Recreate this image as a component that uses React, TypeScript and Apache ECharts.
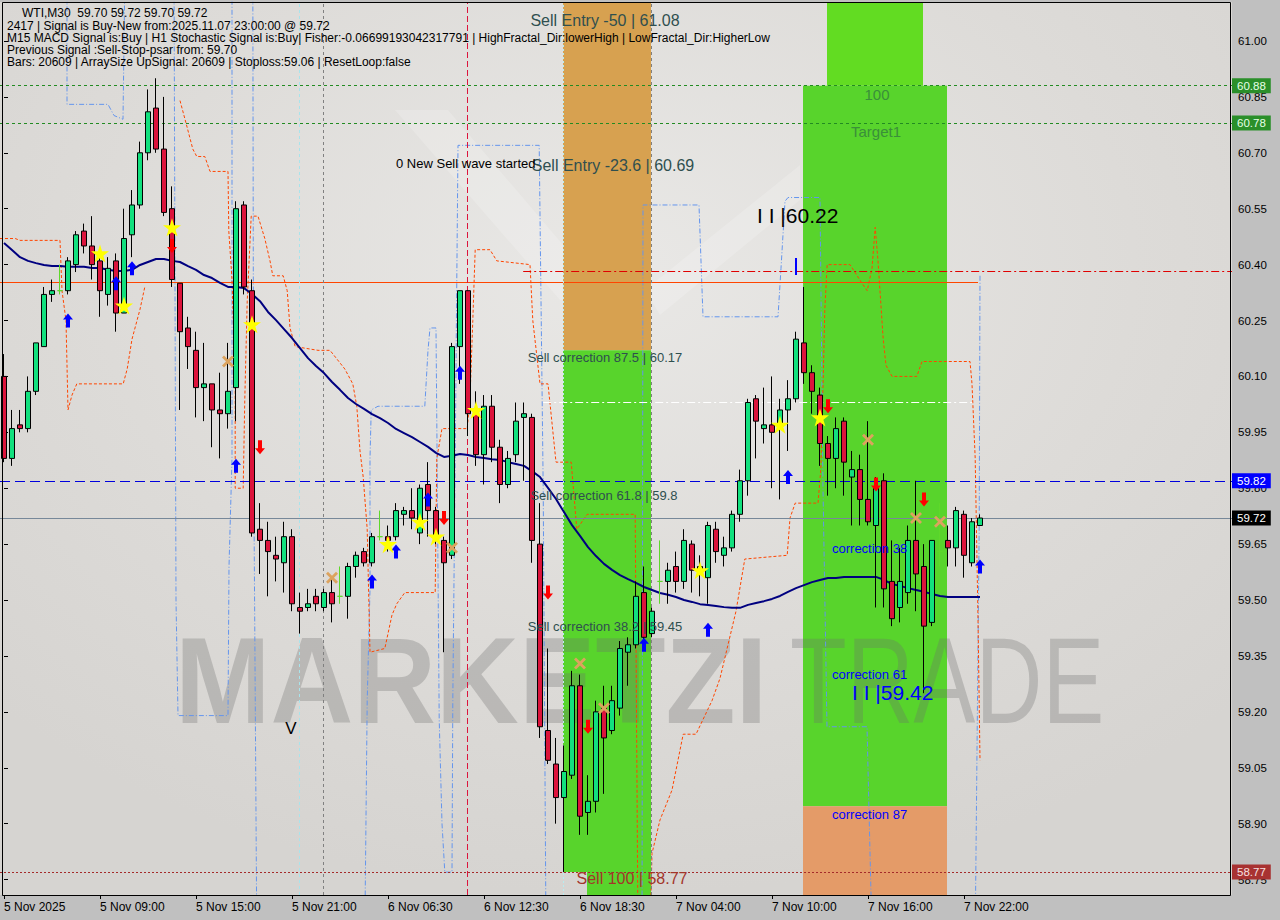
import React, { useEffect, useRef } from "react";
import * as echarts from "echarts";

const SLOTS = 154;
const Y_MIN = 58.7086;
const Y_MAX = 61.1046;

const xTickLabels = ["5 Nov 2025", "5 Nov 09:00", "5 Nov 15:00", "5 Nov 21:00", "6 Nov 06:30", "6 Nov 12:30", "6 Nov 18:30", "7 Nov 04:00", "7 Nov 10:00", "7 Nov 16:00", "7 Nov 22:00"];
const yTickValues = [58.75, 58.9, 59.05, 59.2, 59.35, 59.5, 59.65, 59.8, 59.95, 60.1, 60.25, 60.4, 60.55, 60.7, 60.85, 61.0];

const opens = [60.10,59.88,59.97,59.96,60.06,60.18,60.32,60.33,60.33,60.40,
 60.49,60.45,60.41,60.32,60.41,60.27,60.48,60.56,60.70,60.82,
 60.71,60.55,60.35,60.23,60.17,60.07,60.08,60.01,60.00,60.07,
 60.56,60.33,59.69,59.66,59.62,59.60,59.67,59.48,59.48,59.51,
 59.48,59.52,59.51,59.51,59.59,59.63,59.60,59.67,59.67,59.67,
 59.73,59.74,59.68,59.81,59.74,59.66,59.62,60.18,60.33,60.00,
 59.89,60.02,59.91,59.81,59.89,59.99,59.99,59.65,59.15,59.06,
 58.97,59.03,59.27,58.93,58.96,59.21,59.15,59.21,59.36,59.38,
 59.52,59.41,59.55,59.55,59.59,59.55,59.65,59.57,59.56,59.69,
 59.62,59.64,59.73,59.82,60.04,59.96,59.97,59.97,60.01,60.04,
 60.19,60.11,60.05,59.92,59.88,59.98,59.83,59.85,59.77,59.70,
 59.82,59.55,59.48,59.52,59.66,59.59,59.44,59.63,59.66,59.64,
 59.73,59.60,59.70];
const highs = [60.16,60.01,60.01,60.10,60.19,60.34,60.36,60.40,60.42,60.49,
 60.51,60.53,60.43,60.42,60.43,60.55,60.60,60.73,60.87,60.90,
 60.85,60.61,60.35,60.26,60.22,60.19,60.08,60.11,60.19,60.57,
 60.57,60.36,59.76,59.71,59.67,59.71,59.69,59.52,59.53,59.53,
 59.53,59.56,59.59,59.60,59.63,59.64,59.68,59.74,59.70,59.76,
 59.75,59.80,59.81,59.87,59.75,59.67,60.19,60.33,60.33,60.06,
 60.05,60.05,59.93,59.90,60.03,60.03,60.00,59.76,59.37,59.13,
 59.11,59.31,59.30,59.03,59.23,59.27,59.27,59.39,59.40,59.55,
 59.59,59.48,59.66,59.60,59.63,59.69,59.66,59.62,59.71,59.71,
 59.67,59.74,59.85,60.04,60.05,60.07,60.10,60.04,60.09,60.22,
 60.34,60.13,60.07,59.94,59.99,59.99,59.90,59.89,59.98,59.83,
 59.84,59.66,59.64,59.70,59.82,59.65,59.66,59.76,59.70,59.75,
 59.74,59.72,59.73];
const lows = [59.87,59.86,59.95,59.95,60.05,60.18,60.30,60.32,60.32,60.38,
 60.43,60.36,60.26,60.29,60.22,60.27,60.42,60.55,60.68,60.70,
 60.53,60.34,60.01,60.12,59.99,59.98,59.91,59.88,59.96,59.98,
 60.32,59.67,59.57,59.51,59.55,59.52,59.47,59.41,59.47,59.47,
 59.47,59.44,59.49,59.45,59.56,59.59,59.59,59.66,59.63,59.66,
 59.70,59.69,59.65,59.67,59.65,59.36,59.61,60.08,59.94,59.86,
 59.81,59.87,59.76,59.80,59.87,59.82,59.60,59.13,59.06,58.90,
 58.77,59.02,58.87,58.87,58.93,58.98,59.14,59.19,59.27,59.37,
 59.39,59.40,59.49,59.49,59.52,59.53,59.52,59.51,59.49,59.60,
 59.59,59.63,59.71,59.78,59.88,59.92,59.80,59.77,59.90,60.03,
 60.08,60.00,59.86,59.78,59.80,59.78,59.70,59.70,59.70,59.48,
 59.48,59.43,59.44,59.49,59.47,59.25,59.43,59.59,59.59,59.59,
 59.56,59.59,59.70];
const closes = [59.88,59.96,59.96,60.06,60.19,60.32,60.33,60.33,60.41,60.48,
 60.45,60.40,60.33,60.39,60.27,60.47,60.56,60.70,60.81,60.71,
 60.54,60.36,60.22,60.18,60.07,60.08,60.01,60.00,60.06,60.55,
 60.34,59.68,59.66,59.63,59.61,59.67,59.49,59.47,59.49,59.49,
 59.52,59.49,59.51,59.59,59.62,59.60,59.67,59.67,59.66,59.74,
 59.74,59.72,59.80,59.74,59.66,59.60,60.18,60.33,60.00,59.89,
 60.02,59.91,59.81,59.88,59.98,60.00,59.66,59.16,59.07,58.97,
 59.04,59.27,58.92,58.96,59.20,59.13,59.23,59.37,59.38,59.51,
 59.40,59.47,59.55,59.58,59.55,59.66,59.58,59.59,59.70,59.63,
 59.64,59.73,59.82,60.03,59.98,59.97,59.95,60.01,60.04,60.20,
 60.11,60.06,59.92,59.88,59.96,59.87,59.85,59.77,59.71,59.80,
 59.53,59.45,59.55,59.66,59.57,59.43,59.66,59.63,59.64,59.74,
 59.62,59.71,59.72];
const maValues = [60.458,60.439,60.420,60.410,60.404,60.399,60.396,60.396,60.394,60.394,
 60.394,60.391,60.391,60.386,60.383,60.383,60.386,60.399,60.407,60.415,
 60.415,60.410,60.407,60.396,60.386,60.372,60.364,60.351,60.340,60.340,
 60.337,60.321,60.302,60.273,60.251,60.227,60.203,60.176,60.149,60.128,
 60.109,60.085,60.064,60.042,60.026,60.013,59.999,59.988,59.975,59.959,
 59.948,59.937,59.924,59.911,59.895,59.884,59.887,59.892,59.889,59.884,
 59.881,59.878,59.876,59.870,59.865,59.860,59.846,59.830,59.801,59.771,
 59.736,59.701,59.672,59.642,59.618,59.597,59.581,59.567,59.556,59.546,
 59.535,59.527,59.519,59.514,59.508,59.500,59.495,59.489,59.487,59.484,
 59.481,59.479,59.479,59.487,59.492,59.497,59.503,59.511,59.522,59.532,
 59.540,59.548,59.554,59.559,59.559,59.562,59.562,59.562,59.562,59.562,
 59.554,59.543,59.538,59.532,59.527,59.522,59.516,59.511,59.508,59.508,
 59.508,59.508,59.508];

const buyArrows = [[8,60.25],[14,60.35],[16,60.39],[29,59.86],[46,59.55],[49,59.63],[53,59.77],[57,60.11],[80,59.38],[88,59.42],[98,59.83],[122,59.59]];
const sellArrows = [[21,60.45],[32,59.91],[55,59.72],[68,59.52],[73,59.16],[103,60.02],[109,59.81],[115,59.77]];
const stars = [[12,60.43],[15,60.29],[21,60.50],[31,60.24],[48,59.65],[52,59.71],[54,59.67],[59,60.01],[87,59.58],[97,59.97],[102,59.99]];
const crosses = [[28,60.14],[41,59.56],[56,59.64],[72,59.33],[75,59.21],[108,59.93],[114,59.72],[117,59.71]];

const blueLine1 = [[7.875,61.2],[7.875,60.83],[13,60.83],[13.75,60.80],[14.875,60.79],[15.125,61.2]];
const blueLine2 = [[21.25,61.2],[21.5,59.5],[21.75,59.19],[28,59.19],[28.125,59.59],[28.5,59.88],[28.5,61.2]];
const blueLine3 = [[31.1,61.2],[31.2,59.9],[31.6,58.6]];
const blueLine4 = [[45.1,58.6],[45.4,59.23],[45.75,59.53],[45.75,59.88],[45.9,60.01],[46.75,60.02],[52.6,60.02],[53,60.17],[53.25,60.23],[54,60.23],[54.1,59.98],[54.4,59.18],[54.75,58.90],[55.1,58.77],[56,58.77],[56.1,59.23],[56.4,59.88],[56.75,60.72],[66.9,60.72],[67.4,59.80],[67.75,58.6]];
const blueLine5 = [[79.75,58.6],[79.875,60.56],[86.875,60.56],[87.375,60.26],[96.75,60.26],[97.125,60.39],[97.625,60.57],[98,60.58],[102,60.58],[102.375,59.80],[102.875,59.16],[107.875,59.16],[108.5,58.6]];
const blueLine6 = [[122,60.37],[121.9,59.7],[121.4,58.6]];

const orangeA = [[-0.5,60.47],[1.4,60.47],[2,60.465],[7,60.465],[7.25,60.33],[7.75,60.25],[8,60.01],[8.5,60.05],[9.1,60.08],[14.9,60.08],[15.4,60.12],[16,60.2],[17,60.28],[17.6,60.34]];
const orangeB = [[22,60.84],[22.75,60.78],[23.6,60.71],[24.1,60.69],[25.1,60.69],[25.75,60.65],[28,60.65],[28.1,60.49],[28.5,60.36],[28.9,60.09],[28.9,59.80],[29.9,59.80],[30.1,60.04],[30.4,60.30],[30.9,60.53],[31.75,60.53],[32.6,60.47],[33.25,60.41],[33.6,60.37],[34.9,60.37],[35.4,60.33],[35.75,60.23],[36.4,60.18],[39.25,60.17],[40.75,60.17],[42.6,60.12],[43.6,60.08],[44.1,60.02],[44.5,59.90],[44.9,59.83],[45.4,59.69],[45.75,59.36],[47.6,59.37],[48.5,59.46],[49.1,59.49],[50.1,59.52],[53.9,59.52],[54.1,59.88],[54.75,59.96],[57.9,59.96],[58.25,60.04],[58.6,60.25],[58.9,60.44],[60.75,60.44],[61.6,60.41],[65.75,60.40],[66.1,60.25],[67,60.08],[68,60.08],[69,59.87],[70.9,59.87],[71.6,59.69],[72.9,59.73],[78.9,59.73],[79.25,58.6]];
const orangeC = [[80.75,58.6],[81,58.82],[82,58.91],[83.5,58.99],[84.9,59.14],[86.5,59.14],[88.5,59.23],[89.5,59.29],[91.5,59.47],[92.6,59.61],[97.9,59.62],[98.25,59.72],[98.9,59.76],[101.75,59.76],[102.1,59.85],[102.4,60.09],[102.6,60.28],[102.9,60.40],[105.75,60.40],[107.25,60.35],[107.9,60.33],[108.5,60.39],[108.9,60.50],[109.25,60.41],[109.9,60.20],[110.25,60.13],[111,60.10],[114.1,60.10],[114.75,60.14],[120.75,60.14],[121,60.08],[121.4,59.88],[121.75,59.45],[122,59.07]];

const levelTarget = 60.88;
const levelTarget1 = 60.78;
const levelRedDashDot = 60.383;
const levelOrangeSolid = 60.353;
const levelWhite = 60.03;
const levelBlue = 59.82;
const levelBid = 59.72;
const levelSell100 = 58.77;
const levelCorr87 = 60.17;
const levelRightGreenBottom = 58.947;
const vCyan1 = 36.875;
const vGray1 = 39.96;
const vCrimson = 57.94;
const vCyan2 = 69.875;
const vGray2 = 80.875;

const ORANGE = "#d7a150";
const GREEN = "#58d42c";
const SALMON = "#e49b68";

const ARROW_UP = "path://M5,0 L10,6 L7,6 L7,14 L3,14 L3,6 L0,6 Z";
const ARROW_DOWN = "path://M3,0 L7,0 L7,8 L10,8 L5,14 L0,8 L3,8 Z";
const STAR = "path://M50,0 L61,35 L98,35 L68,57 L79,91 L50,70 L21,91 L32,57 L2,35 L39,35 Z";
const CROSS = "path://M0,2 L2,0 L6,4 L10,0 L12,2 L8,6 L12,10 L10,12 L6,8 L2,12 L0,10 L4,6 Z";

const FONT = "Liberation Sans";

function tag(text: string, bg: string, fg: string) {
  return { show: true, position: "end", distance: 0, formatter: text, backgroundColor: bg, color: fg, padding: [2, 5, 1, 5], fontSize: 11.5, fontFamily: FONT };
}

export default function App() {
  const ref = useRef<HTMLDivElement>(null);
  useEffect(() => {
    const chart = echarts.init(ref.current as HTMLDivElement, null, { renderer: "svg" });
    const candleData = opens.map((o, i) => {
      const v = [o, closes[i], lows[i], highs[i]];
      if (o === closes[i]) {
        const g = "#5ed82a";
        return { value: v, itemStyle: { color: g, color0: g, borderColor: g, borderColor0: g, borderColorDoji: g } };
      }
      return v;
    });
    const cats = Array.from({ length: SLOTS }, (_, i) => String(i));
    const lineSeries = (data: number[][], color: string, type: any) => ({
      type: "line", xAxisIndex: 1, data, symbol: "none", z: 4, silent: true,
      lineStyle: { color, width: 1, type },
    });
    const ls = (color: string, type: any) => ({ color, width: 1, type });

    const texts: any[] = [];
    const addText = (t: string, x: number, y: number, size: number, color: string, align = "left", weight = "normal") => {
      texts.push({ type: "text", x, y, z: 20, silent: true, style: { text: t, fill: color, fontSize: size, fontFamily: FONT, fontWeight: weight, textAlign: align, align, textVerticalAlign: "middle", verticalAlign: "middle" } });
    };
    addText("WTI,M30  59.70 59.72 59.70 59.72", 22, 13, 12, "#000");
    addText("2417 | Signal is Buy-New from:2025.11.07 23:00:00 @ 59.72", 7, 25.5, 12, "#000");
    addText("M15 MACD Signal is:Buy | H1 Stochastic Signal is:Buy| Fisher:-0.06699193042317791 | HighFractal_Dir:lowerHigh | LowFractal_Dir:HigherLow", 7, 37.5, 12, "#000");
    addText("Previous Signal :Sell-Stop-psar from: 59.70", 7, 49.5, 12, "#000");
    addText("Bars: 20609 | ArraySize UpSignal: 20609 | Stoploss:59.06 | ResetLoop:false", 7, 61.5, 12, "#000");
    addText("Sell Entry -50 | 61.08", 605, 20, 16, "#2f4f4f", "center");
    addText("Sell Entry -23.6 | 60.69", 613, 165, 16, "#2f4f4f", "center");
    addText("0 New Sell wave started", 396, 163, 13, "#000");
    addText("Sell correction 87.5 | 60.17", 605, 357, 13, "#2f4f4f", "center");
    addText("Sell correction 61.8 | 59.8", 604, 495, 13, "#2f4f4f", "center");
    addText("Sell correction 38.2 | 59.45", 605, 626, 13, "#2f4f4f", "center");
    addText("Sell 100 | 58.77", 632, 878, 16, "#a3342a", "center");
    addText("100", 877, 94, 15, "#3a8f3a", "center");
    addText("Target1", 876, 131, 15, "#3a8f3a", "center");
    addText("I I |60.22", 757, 215, 21, "#000");
    addText("correction 38", 832, 548, 13, "#0000ff");
    addText("correction 61", 832, 674, 13, "#0000ff");
    addText("I I |59.42", 852, 692, 21, "#0000ff");
    addText("correction 87", 832, 814, 13, "#0000ff");
    addText("V", 291, 728, 17, "#000", "center");

    const option: any = {
      animation: false,
      backgroundColor: "#c0c0c0",
      grid: {
        left: 0, top: 2, width: 1232, height: 893, show: true, borderWidth: 0,
        backgroundColor: new echarts.graphic.RadialGradient(0.5, 0.3, 0.7, [
          { offset: 0, color: "#e9e8e6" }, { offset: 0.6, color: "#dddbd8" }, { offset: 1, color: "#d6d4d1" },
        ]),
      },
      xAxis: [
        {
          type: "category", data: cats, boundaryGap: true, gridIndex: 0,
          axisLine: { show: false },
          axisTick: { show: true, alignWithLabel: true, length: 4, interval: (i: number) => i % 12 === 0 && i <= 120, lineStyle: { color: "#000" } },
          axisLabel: { interval: (i: number) => i % 12 === 0 && i <= 120, formatter: (_v: string, i: number) => (i % 12 === 0 && xTickLabels[i / 12]) || "", align: "left", margin: 6, color: "#000", fontSize: 12, fontFamily: FONT },
          splitLine: { show: false },
        },
        { type: "value", min: -0.5, max: SLOTS - 0.5, show: false, gridIndex: 0 },
      ],
      yAxis: {
        type: "value", min: Y_MIN, max: Y_MAX, position: "right", scale: true,
        axisLine: { show: false }, splitLine: { show: false },
        axisTick: { show: true, customValues: yTickValues, length: 4, lineStyle: { color: "#000" } },
        axisLabel: { customValues: yTickValues, formatter: (v: number) => v.toFixed(2), color: "#000", fontSize: 11.5, fontFamily: FONT, margin: 6 },
      },
      graphic: [
        { type: "polygon", z: 1, silent: true, shape: { points: [[395, 110], [448, 110], [610, 300], [560, 300]] }, style: { fill: "rgba(255,255,255,0.18)" } },
        { type: "polygon", z: 1, silent: true, shape: { points: [[645, 290], [800, 165], [800, 200], [660, 315]] }, style: { fill: "rgba(255,255,255,0.18)" } },
        { type: "text", x: 175, y: 681, scaleX: 0.94, z: 3, silent: true, style: { text: "MARKETZI", fill: "rgba(110,110,110,0.3)", fontSize: 122, fontWeight: "bold", fontFamily: FONT, textVerticalAlign: "middle", verticalAlign: "middle" } },
        { type: "text", x: 790, y: 681, scaleX: 0.76, z: 3, silent: true, style: { text: "TRADE", fill: "rgba(110,110,110,0.3)", fontSize: 122, fontFamily: FONT, textVerticalAlign: "middle", verticalAlign: "middle" } },
        { type: "line", z: 20, silent: true, shape: { x1: 796, y1: 258, x2: 796, y2: 275 }, style: { stroke: "#0000ff", lineWidth: 2 } },
        { type: "rect", z: 30, silent: true, shape: { x: 2.5, y: 2.5, width: 1228, height: 893 }, style: { fill: "none", stroke: "#000", lineWidth: 1 } },
        ...texts,
      ],
      series: [
        {
          type: "line", xAxisIndex: 1, data: [], z: 2, silent: true,
          markArea: {
            silent: true,
            data: [
              [{ coord: [69.875, Y_MAX], itemStyle: { color: ORANGE } }, { coord: [80.875, levelCorr87] }],
              [{ coord: [69.875, levelCorr87], itemStyle: { color: GREEN } }, { coord: [80.875, levelSell100] }],
              [{ coord: [72.875, levelSell100], itemStyle: { color: GREEN } }, { coord: [80.875, Y_MIN] }],
              [{ coord: [102.875, Y_MAX], itemStyle: { color: "#62dc22" } }, { coord: [114.875, levelTarget] }],
              [{ coord: [99.875, levelTarget], itemStyle: { color: GREEN } }, { coord: [117.875, levelRightGreenBottom] }],
              [{ coord: [99.875, levelRightGreenBottom], itemStyle: { color: SALMON } }, { coord: [117.875, Y_MIN] }],
            ],
          },
        },
        {
          type: "line", xAxisIndex: 1, data: [], z: 4, silent: true,
          markLine: {
            silent: true, symbol: ["none", "none"], label: { show: false },
            data: [
              { yAxis: levelTarget, lineStyle: ls("#228b22", [3, 3]), label: tag("60.88", "#2a8f2a", "#e6ffe6") },
              { yAxis: levelTarget1, lineStyle: ls("#228b22", [3, 3]), label: tag("60.78", "#2a8f2a", "#e6ffe6") },
              { yAxis: levelBlue, lineStyle: ls("#0000dd", [10, 5]), label: tag("59.82", "#0000ff", "#ffffff") },
              { yAxis: levelBid, lineStyle: ls("#778899", "solid"), label: tag("59.72", "#000000", "#ffffff") },
              { yAxis: levelSell100, lineStyle: ls("#a52a2a", [2, 2]), label: tag("58.77", "#a83232", "#f6e0e0") },
              [{ coord: [64.9, levelRedDashDot], lineStyle: ls("#e00000", [8, 3, 2, 3]) }, { coord: [SLOTS - 0.5, levelRedDashDot], lineStyle: ls("#e00000", [8, 3, 2, 3]) }],
              [{ coord: [-0.5, levelOrangeSolid], lineStyle: ls("#ff4500", "solid") }, { coord: [121.75, levelOrangeSolid], lineStyle: ls("#ff4500", "solid") }],
              [{ coord: [67.4, levelWhite], lineStyle: ls("#ffffff", [8, 3, 2, 3]) }, { coord: [121.4, levelWhite], lineStyle: ls("#ffffff", [8, 3, 2, 3]) }],
              { xAxis: vCyan1, lineStyle: ls("#a8e4ec", [3, 3]) },
              { xAxis: vGray1, lineStyle: ls("#808080", [3, 3]) },
              { xAxis: vCrimson, lineStyle: ls("#dc143c", [6, 3]) },
              { xAxis: vCyan2, lineStyle: ls("#b8ecf0", [2, 2]) },
              { xAxis: vGray2, lineStyle: ls("#808080", [3, 3]) },
            ],
          },
        },
        lineSeries(blueLine1, "#6495ed", [5, 2, 1, 2]),
        lineSeries(blueLine2, "#6495ed", [5, 2, 1, 2]),
        lineSeries(blueLine3, "#6495ed", [5, 2, 1, 2]),
        lineSeries(blueLine4, "#6495ed", [5, 2, 1, 2]),
        lineSeries(blueLine5, "#6495ed", [5, 2, 1, 2]),
        lineSeries(blueLine6, "#6495ed", [5, 2, 1, 2]),
        lineSeries(orangeA, "#ff4500", [3, 2]),
        lineSeries(orangeB, "#ff4500", [3, 2]),
        lineSeries(orangeC, "#ff4500", [3, 2]),
        {
          type: "line", xAxisIndex: 0, data: maValues, symbol: "none", z: 5, silent: true,
          lineStyle: { color: "#000080", width: 2 },
        },
        {
          type: "candlestick", xAxisIndex: 0, data: candleData, z: 6, barWidth: 5, silent: true,
          itemStyle: { color: "#12e07e", color0: "#dc143c", borderColor: "#000", borderColor0: "#000", borderWidth: 1 },
        },
        { type: "scatter", xAxisIndex: 1, data: buyArrows, symbol: ARROW_UP, symbolSize: [10, 14], z: 7, silent: true, itemStyle: { color: "#0000ff", opacity: 1 } },
        { type: "scatter", xAxisIndex: 1, data: sellArrows, symbol: ARROW_DOWN, symbolSize: [10, 14], z: 7, silent: true, itemStyle: { color: "#ff0000", opacity: 1 } },
        { type: "scatter", xAxisIndex: 1, data: stars, symbol: STAR, symbolSize: 18, z: 7, silent: true, itemStyle: { color: "#ffff00", opacity: 1 } },
        { type: "scatter", xAxisIndex: 1, data: crosses, symbol: CROSS, symbolSize: 12, z: 7, silent: true, itemStyle: { color: "#dca35e", opacity: 1 } },
      ],
    };
    chart.setOption(option);
    return () => chart.dispose();
  }, []);
  return <div ref={ref} style={{ position: "fixed", left: 0, top: 0, width: 1280, height: 920 }} />;
}
